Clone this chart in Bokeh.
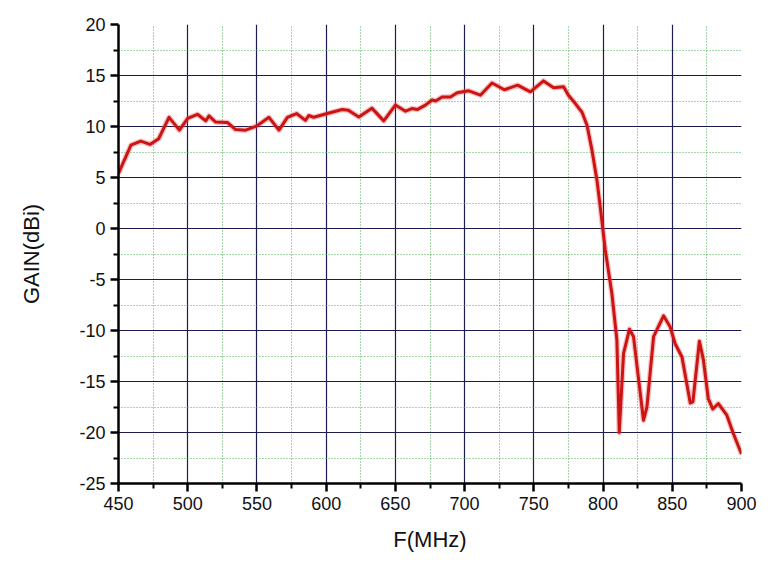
from bokeh.plotting import figure
from bokeh.models import Range1d, FixedTicker, Grid, LinearAxis, CustomJSTickFormatter
from bokeh.embed import file_html
from bokeh.resources import INLINE

freq_mhz = [450.0, 459, 466, 472.8, 479, 486.5, 494, 500, 507, 513, 515.4, 520, 528.6,
            534.6, 541.8, 550, 558.7, 565.9, 572, 578.6, 585, 587.5, 591, 600.8, 611.6,
            616, 623.6, 633, 641.6, 650, 657.3, 662, 665.7, 671.7, 676.5, 679, 683.8,
            689.8, 694.6, 703, 711.4, 719.8, 728.7, 738.3, 747.5, 757, 764.3, 771.5, 775,
            780, 784.8, 788.4, 792, 795.6, 798, 801.6, 806.4, 810, 811.7, 814.8, 819.1,
            822, 829.2, 831.7, 836.5, 843.7, 848.5, 852, 857, 863, 864.9, 869.6, 872.5,
            876, 879.3, 883.3, 889.4, 894.1, 900.0]
gain_dbi = [5.4, 8.17, 8.56, 8.24, 8.8, 10.9, 9.64, 10.8, 11.2, 10.55, 11.04, 10.45, 10.4,
            9.7, 9.64, 10.06, 10.9, 9.64, 10.9, 11.27, 10.6, 11.08, 10.9, 11.27, 11.66,
            11.6, 10.94, 11.8, 10.55, 12.1, 11.5, 11.76, 11.66, 12.1, 12.6, 12.5, 12.9,
            12.9, 13.3, 13.5, 13.07, 14.27, 13.6, 14.05, 13.4, 14.47, 13.8, 13.9, 13.07,
            12.25, 11.4, 10.13, 7.68, 4.74, 2.1, -2.1, -6.4, -10.95, -20.0, -12.25, -9.87,
            -10.6, -18.8, -17.5, -10.6, -8.56, -9.65, -11.27, -12.6, -17.1, -17.0, -11.05, -12.9,
            -16.67, -17.7, -17.16, -18.3, -20.1, -22.1]

x_major = [450, 500, 550, 600, 650, 700, 750, 800, 850, 900]
x_minor = [475, 525, 575, 625, 675, 725, 775, 825, 875]
y_major = [-25, -20, -15, -10, -5, 0, 5, 10, 15, 20]
y_minor = [-22.5, -17.5, -12.5, -7.5, -2.5, 2.5, 7.5, 12.5, 17.5]

FONT = "Liberation Sans"

p = figure(width=768, height=570, output_backend="svg", toolbar_location=None,
           x_range=Range1d(450, 900), y_range=Range1d(-25, 20),
           x_axis_location=None, y_axis_location=None,
           min_border_left=118, min_border_top=24, min_border_right=27, min_border_bottom=87)
p.outline_line_color = None
p.background_fill_color = "white"
p.border_fill_color = "white"
p.xgrid.visible = False
p.ygrid.visible = False

# grids (separate tickers so no lines at the frame edges)
xg = Grid(dimension=0, ticker=FixedTicker(ticks=x_major[1:-1], minor_ticks=x_minor),
          grid_line_color="#1c1c50", grid_line_width=1.2,
          minor_grid_line_color="#4caf4c", minor_grid_line_dash="1 2", minor_grid_line_width=1)
yg = Grid(dimension=1, ticker=FixedTicker(ticks=y_major[1:-1], minor_ticks=y_minor),
          grid_line_color="#1c1c50", grid_line_width=1.2,
          minor_grid_line_color="#4caf4c", minor_grid_line_dash="1 2", minor_grid_line_width=1)
p.renderers.extend([xg, yg])

fmt = CustomJSTickFormatter(code="return tick.toFixed(0);")

def style(ax):
    ax.formatter = fmt
    ax.axis_line_width = 2.5
    ax.axis_line_color = "black"
    ax.major_tick_line_width = 2.5
    ax.minor_tick_line_width = 2
    ax.major_tick_line_color = "black"
    ax.minor_tick_line_color = "black"
    ax.major_tick_out = 8
    ax.major_tick_in = 0
    ax.minor_tick_out = 5
    ax.minor_tick_in = 0
    ax.major_label_text_font = FONT
    ax.major_label_text_font_size = "18px"
    ax.major_label_text_color = "#111111"
    ax.axis_label_text_font = FONT
    ax.axis_label_text_font_size = "22px"
    ax.axis_label_text_font_style = "normal"
    ax.axis_label_text_color = "#111111"

xa = LinearAxis(ticker=FixedTicker(ticks=x_major, minor_ticks=x_minor), axis_label="F(MHz)")
style(xa)
xa.major_label_standoff = 5
xa.axis_label_standoff = 14
p.add_layout(xa, "below")

ya = LinearAxis(ticker=FixedTicker(ticks=y_major, minor_ticks=y_minor), axis_label="GAIN(dBi)")
style(ya)
ya.major_label_standoff = 5
ya.axis_label_standoff = 32
p.add_layout(ya, "left")

p.line(freq_mhz, gain_dbi, line_color="#e85050", line_width=5.5, line_alpha=0.35, line_join="round")
p.line(freq_mhz, gain_dbi, line_color="#cc1414", line_width=3, line_join="round")

open("out.html", "w").write(file_html(p, INLINE))
